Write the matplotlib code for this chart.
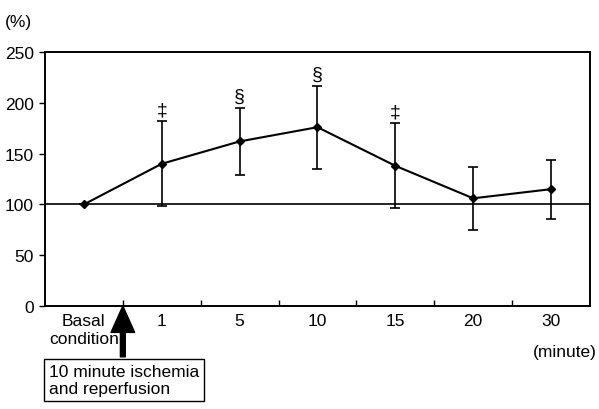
import matplotlib
matplotlib.use("Agg")
import matplotlib.pyplot as plt

plt.rcParams['font.family'] = ['Liberation Sans', 'DejaVu Sans']

categories = ['Basal\ncondition', '1', '5', '10', '15', '20', '30']
means = [100, 140, 162, 176, 138, 106, 115]
errors = [0, 42, 33, 41, 42, 31, 29]
marks = ['', '\u2021', '\u00a7', '\u00a7', '\u2021', '', '']

fig = plt.figure(figsize=(5.99, 4.10), dpi=100)
ax = fig.add_axes([0.0751, 0.2512, 0.9098, 0.6195])

x = list(range(len(categories)))
ax.axhline(100, color='black', lw=1.2, zorder=1)
ax.errorbar(x, means, yerr=errors, color='black', lw=1.5, elinewidth=1.2,
            capsize=3.5, capthick=1.2, marker='D', markersize=4, zorder=3)
for xi, m, e, s in zip(x, means, errors, marks):
    if s:
        ax.text(xi, m + e + 3, s, ha='center', va='bottom', fontsize=14)

ax.set_xlim(-0.5, len(categories) - 0.5)
ax.set_ylim(0, 250)
ax.set_yticks([0, 50, 100, 150, 200, 250])
ax.set_xticks(x)
ax.set_xticklabels(categories, fontsize=12.5, linespacing=1.25)
ax.tick_params(axis='x', length=0, pad=5)
ax.set_xticks([i + 0.5 for i in x[:-1]], minor=True)
ax.tick_params(axis='x', which='minor', direction='in', length=4, width=1)
ax.tick_params(axis='y', direction='out', length=4, width=1, labelsize=12.5, pad=4)
for sp in ax.spines.values():
    sp.set_linewidth(1.4)

fig.text(0.008, 0.945, '(%)', fontsize=12.5, ha='left', va='center')
fig.text(0.997, 0.14, '(minute)', fontsize=12.5, ha='right', va='center')

# arrow + box
ax.annotate('', xy=(0.5, 0), xytext=(0.5, -50), annotation_clip=False,
            arrowprops=dict(facecolor='black', edgecolor='black',
                            width=3.5, headwidth=17, headlength=19, shrink=0))
ax.text(-0.45, -73, '10 minute ischemia\nand reperfusion', fontsize=12.5,
        ha='left', va='center', linespacing=1.15, clip_on=False,
        bbox=dict(boxstyle='square,pad=0.3', fc='white', ec='black', lw=1))

fig.savefig('out.png', dpi=100)
